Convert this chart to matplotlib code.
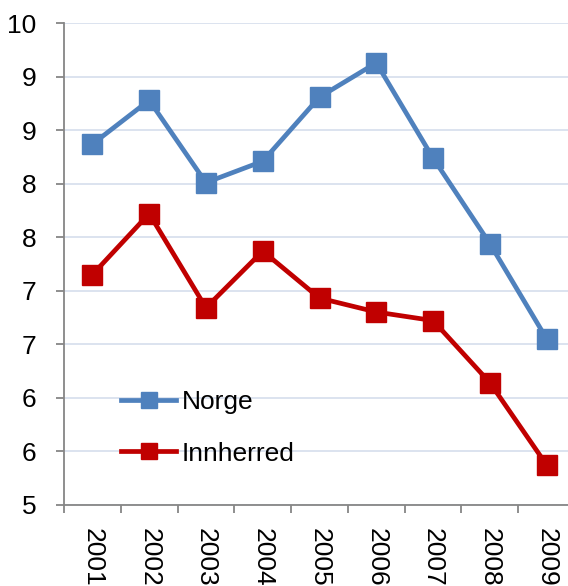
import math
import matplotlib
matplotlib.use("Agg")
import matplotlib.pyplot as plt
from matplotlib.ticker import FuncFormatter, MultipleLocator, FixedLocator

years = ["2001", "2002", "2003", "2004", "2005", "2006", "2007", "2008", "2009"]
norge = [8.37, 8.78, 8.01, 8.21, 8.81, 9.13, 8.24, 7.44, 6.55]
innherred = [7.15, 7.72, 6.84, 7.37, 6.93, 6.80, 6.72, 6.14, 5.37]
y_min, y_max, y_step = 5.0, 9.5, 0.5

plt.rcParams['font.family'] = ['Liberation Sans', 'DejaVu Sans']

fig = plt.figure(figsize=(5.68, 5.86), dpi=100)
ax = fig.add_axes([64/568, 81.5/586, 511/568, (562.7-81.5)/586])

x = list(range(len(years)))
ax.plot(x, norge, color='#4F81BD', lw=3.4, marker='s', ms=14, label='Norge', clip_on=False, zorder=3)
ax.plot(x, innherred, color='#C00000', lw=3.4, marker='s', ms=14, label='Innherred', clip_on=False, zorder=3)

ax.set_xlim(-0.5, len(years) - 0.5)
ax.set_ylim(y_min, y_max)
ax.yaxis.set_major_locator(MultipleLocator(y_step))
ax.yaxis.set_major_formatter(FuncFormatter(lambda v, p: str(int(math.floor(v + 0.5)))))
ax.grid(axis='y', color='#D9E1EE', lw=1.3, zorder=0)
ax.set_axisbelow(True)

ax.set_xticks(x)
ax.set_xticklabels(years, rotation=270, va='top', ha='center')
ax.xaxis.set_minor_locator(FixedLocator([i - 0.5 for i in range(len(years) + 1)]))
ax.tick_params(axis='x', which='major', length=0, pad=17, labelsize=19)
ax.tick_params(axis='x', which='minor', length=6, width=1.3, color='#868686', direction='out')
ax.tick_params(axis='y', which='major', length=6, width=1.3, color='#868686', pad=14, labelsize=19)

for s in ['top', 'right']:
    ax.spines[s].set_visible(False)
for s in ['left', 'bottom']:
    ax.spines[s].set_color('#868686')
    ax.spines[s].set_linewidth(1.3)

leg = ax.legend(loc='upper left', bbox_to_anchor=(113/568, 1 - 382/586), bbox_transform=fig.transFigure,
                frameon=False, fontsize=19, handlelength=2.1, handletextpad=0.2, labelspacing=1.05,
                markerscale=0.85, borderaxespad=0, borderpad=0.3)

fig.savefig("out.png", dpi=100)
